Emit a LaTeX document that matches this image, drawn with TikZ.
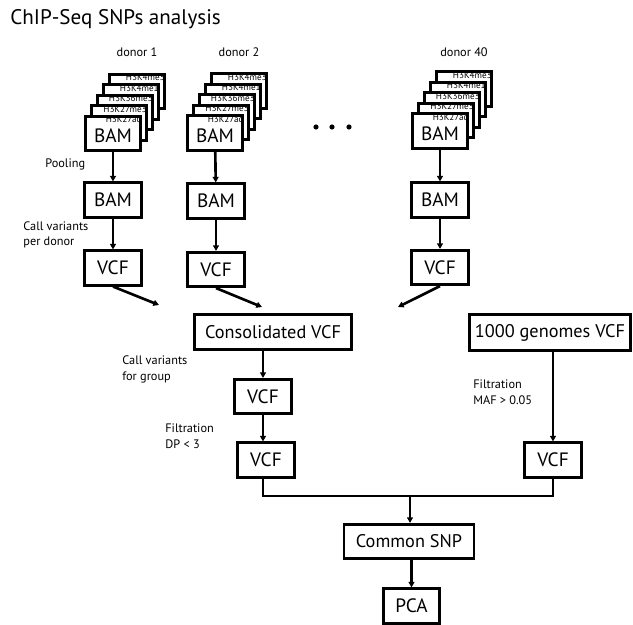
\documentclass[tikz,border=0pt]{standalone}
\usepackage{fontspec}
\setmainfont{PT Sans}
\usetikzlibrary{arrows.meta,calc,positioning}

\tikzset{
  box/.style={draw, line width=1.5pt, fill=white, inner sep=0pt,
    minimum width=1.13cm, minimum height=0.69cm, font=\fontsize{11}{12}\selectfont},
  widebox/.style={box, minimum height=0.71cm, font=\fontsize{10.4}{12}\selectfont},
  layer/.style={box, minimum width=1.11cm},
  tag/.style={inner sep=0.6pt, font=\fontsize{5.2}{5.5}\selectfont},
  note/.style={inner sep=0pt, align=left, font=\fontsize{7}{9}\selectfont},
  flow/.style={line width=1.5pt, -{Triangle[length=3.2pt,width=3.4pt]}},
}

\begin{document}
\begin{tikzpicture}[x=0.02cm, y=-0.02cm]
    \useasboundingbox (0,0) rectangle (633,625);

    \node[anchor=base west, inner sep=0pt, font=\fontsize{12}{14}\selectfont] (title) at (10,25) {ChIP-Seq SNPs analysis};

    % stacks of marks per donor
    \foreach \d/\x/\y/\lab in {1/113/133.5/donor 1, 2/215/133/donor 2, 40/440/131/donor 40} {
        \foreach \k/\mark in {4/H3K4me3, 3/H3K4me1, 2/H3K36me3, 1/H3K27me3} {
            \node[layer] (d\d-\k) at (\x+6*\k,\y-10.5*\k) {};
            \node[tag, anchor=north east] (t\d-\k) at (d\d-\k.north east) {\mark};
        }
        \node[layer] (raw\d) at (\x,\y) {};
        \node[tag, anchor=north east] (t\d-0) at (raw\d.north east) {H3K27ac};
        \node[font=\fontsize{11}{12}\selectfont, inner sep=0pt] (bam\d) at ($(raw\d.center)+(0,2.5)$) {BAM};
        \node[note, anchor=base] (lab\d) at (\x+24,57) {\lab};
    }

    \node[inner sep=0pt] (dot1) at (316,127) {};
    \node[inner sep=0pt] (dot2) at (332,127) {};
    \node[inner sep=0pt] (dot3) at (349,127) {};
    \foreach \n in {dot1,dot2,dot3} \fill (\n) circle (2.6);

    % pooled BAM and per-donor VCF
    \node[box] (pool1) at (113,200) {BAM};
    \node[box] (pool2) at (216,201) {BAM};
    \node[box] (pool40) at (440,200) {BAM};
    \node[box] (vcf1) at (113,268) {VCF};
    \node[box] (vcf2) at (216,269.5) {VCF};
    \node[box] (vcf40) at (440,267.5) {VCF};

    \foreach \d in {1,2,40} {
        \draw[flow] (raw\d) -- (pool\d);
        \draw[flow] (pool\d) -- (vcf\d);
    }

    \coordinate (in1) at (159,305);
    \coordinate (in2) at (262,307);
    \coordinate (in40) at (398,307);
    \draw[flow] (vcf1.south) -- (in1);
    \draw[flow] (vcf2.south) -- (in2);
    \draw[flow] (vcf40.south) -- (in40);

    \node[widebox, minimum width=3.15cm] (cons) at (273,332) {Consolidated VCF};
    \node[widebox, minimum width=3.23cm] (kg) at (550,332.5) {1000 genomes VCF};

    \node[box] (grp) at (263,396.5) {VCF};
    \node[box] (filt) at (266,460) {VCF};
    \node[box] (maf) at (553,460) {VCF};
    \node[widebox, minimum width=2.6cm, minimum height=0.69cm] (common) at (409,541.5) {Common SNP};
    \node[box] (pca) at (411.5,606) {PCA};

    \draw[flow] (cons.south -| grp) -- (grp);
    \draw[flow] (grp.south) -- (grp.south |- filt.north);
    \draw[flow] (kg.south -| maf) -- (maf);

    \coordinate (join) at (410,496);
    \draw[line width=1.5pt] (grp.south |- filt.south) |- (join) -| (maf.south);
    \draw[flow] (join) -- (join |- common.north);
    \draw[flow] (common.south -| pca) -- (pca);

    % step labels
    \node[note, anchor=base west] (pooling) at (45,168) {Pooling};
    \node[note, anchor=base west] (calldonor) at (23,246) {Call variants\\per donor};
    \node[note, anchor=base west] (callgroup) at (122,380) {Call variants\\for group};
    \node[note, anchor=base west] (dpfilt) at (165,448) {Filtration\\DP {\textless} 3};
    \node[note, anchor=base west] (maffilt) at (473,404) {Filtration\\MAF {\textgreater} 0.05};
\end{tikzpicture}
\end{document}
